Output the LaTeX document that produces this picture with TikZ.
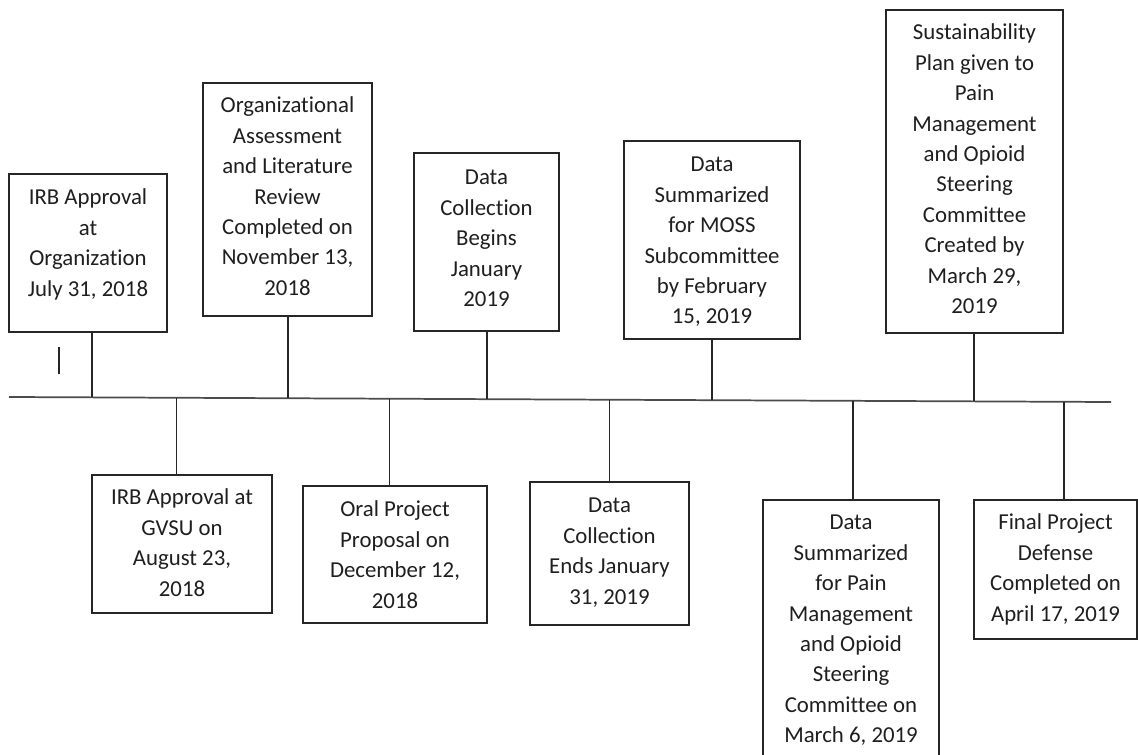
\documentclass[tikz,border=0pt]{standalone}
\usepackage{fontspec}
\setmainfont[Ligatures=NoCommon]{Carlito}
\usetikzlibrary{fit,calc}

\tikzset{
  eventbox/.style={draw=black!85, line width=0.95pt, inner sep=0pt, fill=none},
  eventtext/.style={anchor=north, align=center, inner sep=0pt, text=black!88,
    font=\fontsize{17.1pt}{22.8pt}\selectfont},
  stem/.style={draw=black!85, line width=0.95pt},
  axis/.style={draw=black!70, line width=1.3pt}
}

\begin{document}
\begin{tikzpicture}[x=0.75pt, y=-0.75pt]
  \useasboundingbox (0,0) rectangle (1138,755);
  \clip (0,0) rectangle (1138,755);
  \fill[white] (0,0) rectangle (1138,755);

  % time axis
  \coordinate (L) at (9,397);
  \coordinate (R) at (1111,402);
  \draw[axis] (L) -- (R);

  % points where the stems meet the axis
  \coordinate (c1) at (92,397.4);
  \coordinate (c2) at (288,398.3);
  \coordinate (c3) at (487,399.2);
  \coordinate (c4) at (712,400.2);
  \coordinate (c5) at (974,401.4);
  \coordinate (c6) at (176.5,397.8);
  \coordinate (c7) at (389.5,398.7);
  \coordinate (c8) at (609.5,399.7);
  \coordinate (c9) at (853,400.8);
  \coordinate (c10) at (1064,401.8);

  % events above the axis
  \node[eventbox, fit={(9,174) (167,332)}] (b1) {};
  \node[eventtext] (t1) at ($(b1.north)+(0,10)$)
    {\strut IRB Approval\\at\\Organization\\July 31, 2018};

  \node[eventbox, fit={(203,83) (372,316)}] (b2) {};
  \node[eventtext] (t2) at ($(b2.north)+(0,9)$)
    {\strut Organizational\\Assessment\\and Literature\\Review\\Completed on\\November 13,\\2018};

  \node[eventbox, fit={(414,153) (559,331)}] (b3) {};
  \node[eventtext] (t3) at ($(b3.north)+(0,11)$)
    {\strut Data\\Collection\\Begins\\January\\2019};

  \node[eventbox, fit={(624,141) (800,339)}] (b4) {};
  \node[eventtext] (t4) at ($(b4.north)+(0,10)$)
    {\strut Data\\Summarized\\for MOSS\\Subcommittee\\by February\\15, 2019};

  \node[eventbox, fit={(886,10) (1063,333)}] (b5) {};
  \node[eventtext] (t5) at ($(b5.north)+(0,9)$)
    {\strut Sustainability\\Plan given to\\Pain\\Management\\and Opioid\\Steering\\Committee\\Created by\\March 29,\\2019};

  % events below the axis
  \node[eventbox, fit={(92,475) (272,613)}] (b6) {};
  \node[eventtext] (t6) at ($(b6.north)+(0,9)$)
    {\strut IRB Approval at\\GVSU on\\August 23,\\2018};

  \node[eventbox, fit={(303,486) (487,623)}] (b7) {};
  \node[eventtext] (t7) at ($(b7.north)+(0,10)$)
    {\strut Oral Project\\Proposal on\\December 12,\\2018};

  \node[eventbox, fit={(530,482) (689,625)}] (b8) {};
  \node[eventtext] (t8) at ($(b8.north)+(0,10)$)
    {\strut Data\\Collection\\Ends January\\31, 2019};

  \node[eventbox, fit={(763,500) (939,775)}] (b9) {};
  \node[eventtext] (t9) at ($(b9.north)+(0,9)$)
    {\strut Data\\Summarized\\for Pain\\Management\\and Opioid\\Steering\\Committee on\\March 6, 2019};

  \node[eventbox, fit={(974,500) (1137,639)}] (b10) {};
  \node[eventtext] (t10) at ($(b10.north)+(0,9)$)
    {\strut Final Project\\Defense\\Completed on\\April 17, 2019};

  % stems from the axis to each event
  \draw[stem] (c1) -- (c1 |- b1.south);
  \draw[stem] (c2) -- (c2 |- b2.south);
  \draw[stem] (c3) -- (c3 |- b3.south);
  \draw[stem] (c4) -- (c4 |- b4.south);
  \draw[stem] (c5) -- (c5 |- b5.south);
  \draw[stem] (c6) -- (c6 |- b6.north);
  \draw[stem] (c7) -- (c7 |- b7.north);
  \draw[stem] (c8) -- (c8 |- b8.north);
  \draw[stem] (c9) -- (c9 |- b9.north);
  \draw[stem] (c10) -- (c10 |- b10.north);

  % short stray mark under the first event
  \coordinate (m1) at (59,347);
  \coordinate (m2) at (59,374);
  \draw[stem] (m1) -- (m2);
\end{tikzpicture}
\end{document}
